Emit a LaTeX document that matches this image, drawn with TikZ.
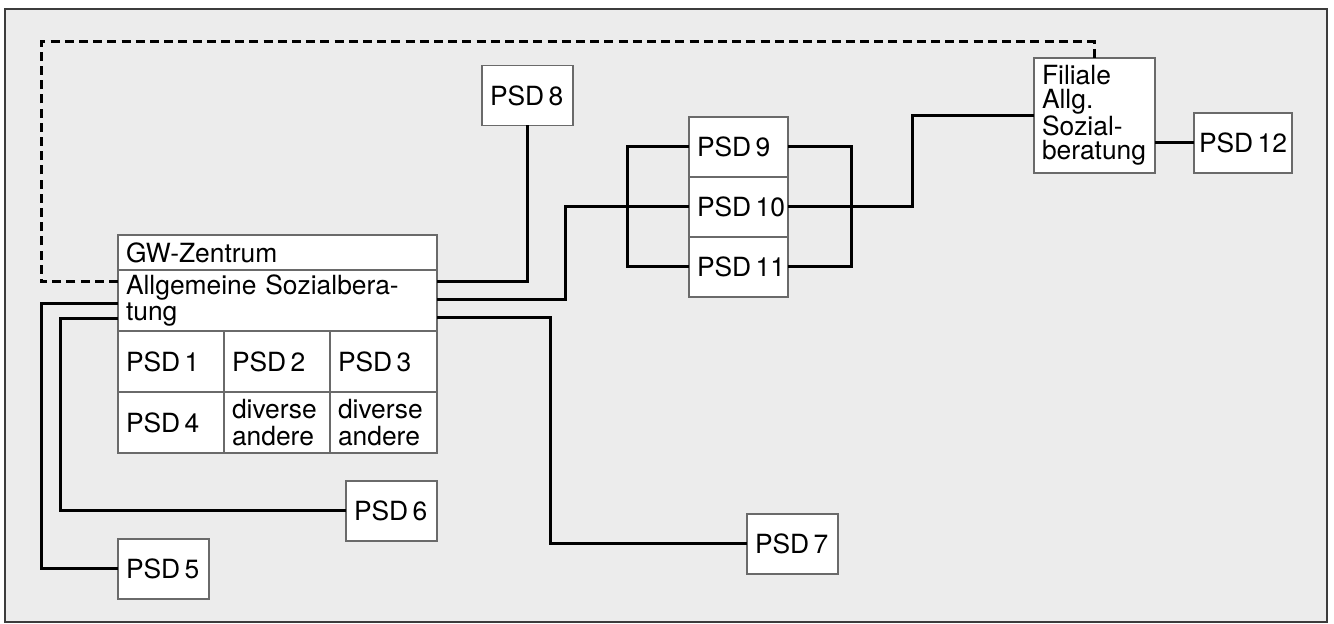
\documentclass[tikz,border=0pt]{standalone}
\usepackage{fontspec}
\setmainfont{TeX Gyre Heros}
\usetikzlibrary{calc}
\definecolor{panelgray}{HTML}{ECECEC}
\definecolor{boxgray}{HTML}{6A6A6A}
\definecolor{framegray}{HTML}{3C3C3C}
\tikzset{
  cell/.style={draw=boxgray, fill=white, line width=.55pt, inner xsep=4pt, inner ysep=0pt,
    outer sep=0pt, align=left, font=\fontsize{13.2}{13.4}\selectfont},
  link/.style={line width=1.5pt, black},
  dashlink/.style={line width=1.5pt, black, dash pattern=on 4.5pt off 2.6pt},
}
\begin{document}
\begin{tikzpicture}[x=0.5pt, y=-0.5pt]
  \useasboundingbox (0,0) rectangle (1334,624);
  \draw[framegray, fill=panelgray, line width=.8pt] (5,9) rectangle (1327,622);
          % GW-Zentrum block
          \node [cell, text width=151.5pt, minimum height=17.5pt] (gwtitle) at (277.5,252.5) {GW-Zentrum};
          \node [cell, text width=151.5pt, minimum height=30.5pt] (gwasb) at (277.5,300.5) {Allgemeine Sozialbera-\\tung};
          \node [cell, text width=45pt, minimum height=30.5pt] (psd1) at (171,361.5) {PSD\,1};
          \node [cell, text width=45pt, minimum height=30.5pt] (psd2) at (277,361.5) {PSD\,2};
          \node [cell, text width=45.5pt, minimum height=30.5pt] (psd3) at (383.5,361.5) {PSD\,3};
          \node [cell, text width=45pt, minimum height=30.5pt] (psd4) at (171,422.5) {PSD\,4};
          \node [cell, text width=45pt, minimum height=30.5pt] (div2) at (277,422.5) {diverse\\andere};
          \node [cell, text width=45.5pt, minimum height=30.5pt] (div3) at (383.5,422.5) {diverse\\andere};
          % single offices
          \node [cell, text width=37.5pt, minimum height=30pt] (psd5) at (163.5,569) {PSD\,5};
          \node [cell, text width=37.5pt, minimum height=30pt] (psd6) at (391.5,511) {PSD\,6};
          \node [cell, text width=37.5pt, minimum height=30pt] (psd7) at (792.5,544) {PSD\,7};
          \node [cell, text width=37.5pt, minimum height=30pt] (psd8) at (527.5,95.5) {PSD\,8};
          \node [cell, text width=41.5pt, minimum height=30pt] (psd9) at (738.5,147) {PSD\,9};
          \node [cell, text width=41.5pt, minimum height=30pt] (psd10) at (738.5,207) {PSD\,10};
          \node [cell, text width=41.5pt, minimum height=30pt] (psd11) at (738.5,267) {PSD\,11};
          \node [cell, text width=52.5pt, minimum height=57.5pt, font=\fontsize{13.2}{11.9}\selectfont] (filiale) at (1094.5,115.5) {Filiale\\Allg.\\Sozial-\\beratung};
          \node [cell, inner xsep=2.5pt, text width=44pt, minimum height=30pt] (psd12) at (1243,143) {PSD\,12};
          \coordinate (dashcorner) at (41,42);
	  \draw[dashlink] ($(gwasb.north west)+(0,12)$) -| (dashcorner) -| (filiale.north);
\draw[link] ($(gwasb.north west)+(0,34)$) -- ++(-77,0) |- (psd5.west);
\draw[link] ($(gwasb.north west)+(0,49)$) -- ++(-58,0) |- (psd6.west);
\draw[link] ($(gwasb.north east)+(0,12)$) -| (psd8.south);
\draw[link] ($(gwasb.north east)+(0,30)$) -- ++(128,0) |- (psd10.west);
\draw[link] ($(gwasb.north east)+(0,48)$) -- ++(113,0) |- (psd7.west);
\draw[link] (psd9.west) -- ++(-62,0) |- (psd11.west);
\draw[link] (psd9.east) -- ++(63,0) |- (psd11.east);
\draw[link] (psd10.east) -- ++(124,0) |- (filiale.west);
\draw[link] (filiale.east |- psd12.west) -- (psd12.west);

        \end{tikzpicture}
\end{document}
